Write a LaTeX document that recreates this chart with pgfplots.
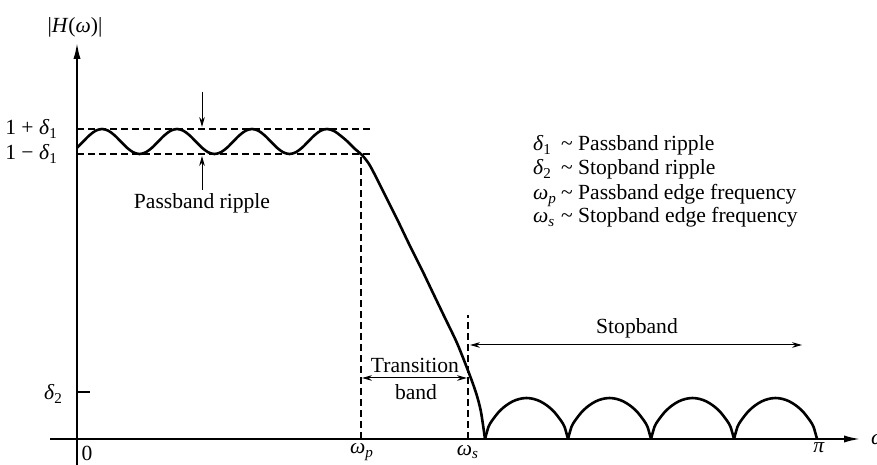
\documentclass[border=0pt]{standalone}
\usepackage{fontspec}
\setmainfont{Liberation Serif}
\usepackage{pgfplots}
\pgfplotsset{compat=1.18}
\usetikzlibrary{arrows.meta}
\newcommand{\sym}[2]{\textit{#1}\textsubscript{#2}}
\begin{document}
\begin{tikzpicture}[font=\fontsize{10.8}{13}\selectfont]
\useasboundingbox (-38.5pt,-13pt) rectangle (400pt,219.5pt);
\begin{axis}[anchor=origin, at={(0pt,0pt)}, x=0.5pt, y=0.5pt,
  xmin=-27, xmax=783, ymin=-26, ymax=396,
  axis lines=middle, enlargelimits=false, clip=false,
  xtick=\empty, ytick=\empty,
  axis line style={line width=0.9pt},
  every inner x axis line/.append style={-{Latex[length=8pt,width=3.6pt]}},
  every inner y axis line/.append style={-{Latex[length=8pt,width=3.6pt]}},
  every node/.style={inner sep=0pt}]
% tolerance lines
\addplot[line width=0.7pt, dash pattern=on 3.3pt off 2.2pt] coordinates {(0,310) (293,310)};
\addplot[line width=0.7pt, dash pattern=on 3.3pt off 2.2pt] coordinates {(0,285) (296,285)};
\addplot[line width=0.7pt, dash pattern=on 3.3pt off 2.2pt] coordinates {(284,0) (284,285)};
\addplot[line width=0.7pt, dash pattern=on 3.3pt off 2.2pt] coordinates {(391,0) (391,124)};
% delta2 tick
\addplot[line width=0.9pt] coordinates {(0,47) (13,47)};
% passband + transition
\addplot[line width=1.3pt, smooth] coordinates {
(0,291.25) (6.25,297.5) (12.5,303.75) (18.75,308.33) (25,310) (31.25,308.33) (37.5,303.75) (43.75,297.5)
(50,291.25) (56.25,286.67) (62.5,285) (68.75,286.67) (75,291.25) (81.25,297.5) (87.5,303.75) (93.75,308.33)
(100,310) (106.25,308.33) (112.5,303.75) (118.75,297.5) (125,291.25) (131.25,286.67) (137.5,285) (143.75,286.67)
(150,291.25) (156.25,297.5) (162.5,303.75) (168.75,308.33) (175,310) (181.25,308.33) (187.5,303.75) (193.75,297.5)
(200,291.25) (206.25,286.67) (212.5,285) (218.75,286.67) (225,291.25) (231.25,297.5) (237.5,303.75) (243.75,308.33)
(250,310) (257,308) (264,303) (271,297) (278,290) (285,284) (292,275) (299,262) (306,248) (320,220) (333,193)
(345,169) (356,146) (368,121) (380,96) (390,71) (396,55) (400,43) (404,27) (408,0)};
% stopband lobes
\addplot[line width=1.3pt, smooth] coordinates {(408,0) (411.46,12.1) (414.92,18.2) (421.83,27.1) (428.75,33.3) (435.67,37.6) (442.58,40.1) (449.5,41) (456.42,40.1) (463.33,37.6) (470.25,33.3) (477.17,27.1) (484.08,18.2) (487.54,12.1) (491,0)};
\addplot[line width=1.3pt, smooth] coordinates {(491,0) (494.46,12.1) (497.92,18.2) (504.83,27.1) (511.75,33.3) (518.67,37.6) (525.58,40.1) (532.5,41) (539.42,40.1) (546.33,37.6) (553.25,33.3) (560.17,27.1) (567.08,18.2) (570.54,12.1) (574,0)};
\addplot[line width=1.3pt, smooth] coordinates {(574,0) (577.46,12.1) (580.92,18.2) (587.83,27.1) (594.75,33.3) (601.67,37.6) (608.58,40.1) (615.5,41) (622.42,40.1) (629.33,37.6) (636.25,33.3) (643.17,27.1) (650.08,18.2) (653.54,12.1) (657,0)};
\addplot[line width=1.3pt, smooth] coordinates {(657,0) (660.46,12.1) (663.92,18.2) (670.83,27.1) (677.75,33.3) (684.67,37.6) (691.58,40.1) (698.5,41) (705.42,40.1) (712.33,37.6) (719.25,33.3) (726.17,27.1) (733.08,18.2) (736.54,12.1) (740,0)};
% annotation arrows
\draw[line width=0.5pt, -{Stealth[length=5pt,width=2.8pt]}] (axis cs:125,347) -- (axis cs:125,312);
\draw[line width=0.5pt, -{Stealth[length=5pt,width=2.8pt]}] (axis cs:125,249) -- (axis cs:125,283);
\draw[line width=0.5pt, {Stealth[length=5pt,width=2.8pt]}-{Stealth[length=5pt,width=2.8pt]}] (axis cs:285,61) -- (axis cs:390,61);
\draw[line width=0.5pt, {Stealth[length=5pt,width=2.8pt]}-{Stealth[length=5pt,width=2.8pt]}] (axis cs:393,94) -- (axis cs:725,94);
% texts
\node at (axis cs:125,236) {Passband ripple};
\node at (axis cs:338,74) {Transition};
\node at (axis cs:339,47) {band};
\node at (axis cs:560,111) {Stopband};
\node at (axis cs:-2,412) {|\textit{H}(\textit{ω})|};
\node[anchor=east] at (axis cs:-12,310) {1 + \sym{δ}{1}};
\node[anchor=east] at (axis cs:-12,285) {1 − \sym{δ}{1}};
\node[anchor=east] at (axis cs:-7,45) {\sym{δ}{2}};
\node at (axis cs:10,-14) {0};
\node at (axis cs:285,-13) {\sym{ω}{\textit{p}}};
\node at (axis cs:391,-13) {\sym{ω}{\textit{s}}};
\node at (axis cs:742,-9) {\textit{π}};
\node[anchor=west] at (axis cs:787,-1) {\textit{ω}};
\node[anchor=base west] at (axis cs:449,288) {\makebox[14pt][l]{\sym{δ}{1}}\textasciitilde{} Passband ripple};
\node[anchor=base west] at (axis cs:449,264) {\makebox[14pt][l]{\sym{δ}{2}}\textasciitilde{} Stopband ripple};
\node[anchor=base west] at (axis cs:449,239) {\makebox[14pt][l]{\sym{ω}{\textit{p}}}\textasciitilde{} Passband edge frequency};
\node[anchor=base west] at (axis cs:449,216) {\makebox[14pt][l]{\sym{ω}{\textit{s}}}\textasciitilde{} Stopband edge frequency};
\end{axis}
\end{tikzpicture}
\end{document}
